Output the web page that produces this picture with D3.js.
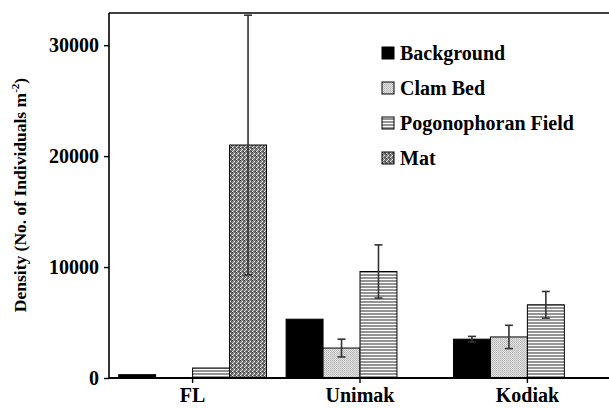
<!DOCTYPE html>
<html>
<head>
<meta charset="utf-8">
<script src="https://cdn.jsdelivr.net/npm/d3@7"></script>
<style>
  body { margin: 0; background: #fff; }
  text { font-family: "Liberation Serif", "Times New Roman", serif; font-weight: bold; fill: #000; }
</style>
</head>
<body>
<div id="chart"></div>
<script>
const sites = ["FL", "Unimak", "Kodiak"];
const series = ["Background", "Clam Bed", "Pogonophoran Field", "Mat"];
// mean density per series, in site order (null = not sampled)
const background = [300, 5300, 3500];
const clamBed = [null, 2700, 3700];
const pogonophoran = [900, 9600, 6600];
const mat = [21000, null, null];
// standard error per series
const backgroundErr = [0, 0, 250];
const clamBedErr = [0, 800, 1050];
const pogonophoranErr = [0, 2400, 1200];
const matErr = [11700, 0, 0];
const yTicks = [0, 10000, 20000, 30000];

const means = [background, clamBed, pogonophoran, mat];
const errs = [backgroundErr, clamBedErr, pogonophoranErr, matErr];

const width = 609, height = 408;
const margin = {left: 109, top: 13, bottom: 30};
const baseY = height - margin.bottom;

const svg = d3.select("#chart").append("svg")
    .attr("width", width)
    .attr("height", height);

// fill patterns
const defs = svg.append("defs");
const pClam = defs.append("pattern").attr("id", "p-clam")
    .attr("patternUnits", "userSpaceOnUse").attr("width", 2).attr("height", 2);
pClam.append("rect").attr("width", 2).attr("height", 2).attr("fill", "#e2e2e2");
pClam.append("rect").attr("width", 1).attr("height", 1).attr("fill", "#b4b4b4");
pClam.append("rect").attr("x", 1).attr("y", 1).attr("width", 1).attr("height", 1).attr("fill", "#c2c2c2");

const pPog = defs.append("pattern").attr("id", "p-pog")
    .attr("patternUnits", "userSpaceOnUse").attr("width", 4).attr("height", 3);
pPog.append("rect").attr("width", 4).attr("height", 3).attr("fill", "#fff");
pPog.append("rect").attr("y", 1).attr("width", 4).attr("height", 2).attr("fill", "#939393");

const pMat = defs.append("pattern").attr("id", "p-mat")
    .attr("patternUnits", "userSpaceOnUse").attr("width", 4).attr("height", 4);
pMat.append("rect").attr("width", 4).attr("height", 4).attr("fill", "#7c7c7c");
[[0, 0, "#3a3a3a"], [2, 1, "#eee"], [1, 2, "#d4d4d4"], [3, 3, "#4a4a4a"], [3, 1, "#5a5a5a"], [1, 0, "#a4a4a4"], [0, 3, "#f4f4f4"], [2, 3, "#606060"]]
  .forEach(([x, y, c]) => pMat.append("rect").attr("x", x).attr("y", y)
      .attr("width", 1).attr("height", 1).attr("fill", c));

const fills = ["#000", "url(#p-clam)", "url(#p-pog)", "url(#p-mat)"];

const x0 = d3.scaleBand().domain(sites).range([margin.left, 611])
    .paddingInner(0.117).paddingOuter(0.058);
const x1 = d3.scaleBand().domain(series).range([0, x0.bandwidth()]);
const y = d3.scaleLinear().domain([0, 32900]).range([baseY, margin.top]);

// bars
const cells = [];
series.forEach((s, i) => sites.forEach((site, j) => {
  if (means[i][j] !== null) cells.push({s, i, site, v: means[i][j], e: errs[i][j]});
}));

svg.append("g").selectAll("rect").data(cells).join("rect")
    .attr("x", d => x0(d.site) + x1(d.s))
    .attr("y", d => y(d.v))
    .attr("width", x1.bandwidth())
    .attr("height", d => y(0) - y(d.v))
    .attr("fill", d => fills[d.i])
    .attr("stroke", "#000")
    .attr("stroke-width", 1);

// error bars
const eb = svg.append("g").attr("stroke", "#333").attr("stroke-width", 1.6)
  .selectAll("g").data(cells.filter(d => d.e > 0)).join("g");
const cx = d => x0(d.site) + x1(d.s) + x1.bandwidth() / 2;
eb.append("line")
    .attr("x1", cx).attr("x2", cx)
    .attr("y1", d => y(d.v + d.e)).attr("y2", d => y(d.v - d.e));
eb.append("line")
    .attr("x1", d => cx(d) - 4).attr("x2", d => cx(d) + 4)
    .attr("y1", d => y(d.v + d.e)).attr("y2", d => y(d.v + d.e));
eb.append("line")
    .attr("x1", d => cx(d) - 4).attr("x2", d => cx(d) + 4)
    .attr("y1", d => y(d.v - d.e)).attr("y2", d => y(d.v - d.e));

// axes
const yAxis = svg.append("g")
    .attr("transform", `translate(${margin.left},0)`)
    .call(d3.axisLeft(y).tickValues(yTicks).tickSize(5).tickPadding(5).tickFormat(d3.format("d")));
yAxis.select(".domain").attr("stroke-width", 1.6)
    .attr("d", `M0,${margin.top}V${baseY}`);
yAxis.selectAll(".tick line").attr("stroke-width", 1.4);
yAxis.selectAll(".tick text").attr("font-size", 20);

const xAxis = svg.append("g")
    .attr("transform", `translate(0,${baseY})`)
    .call(d3.axisBottom(x0).tickSize(5).tickPadding(5));
xAxis.select(".domain").attr("stroke-width", 2)
    .attr("d", `M${margin.left},0H${width}`);
xAxis.selectAll(".tick line").attr("stroke-width", 1.4);
xAxis.selectAll(".tick text").attr("font-size", 20);

// top frame line
svg.append("line")
    .attr("x1", margin.left).attr("x2", width)
    .attr("y1", margin.top).attr("y2", margin.top)
    .attr("stroke", "#000").attr("stroke-width", 1.6);

// y title
const yt = svg.append("text")
    .attr("transform", `translate(26,${(77 + 313) / 2}) rotate(-90)`)
    .attr("text-anchor", "middle")
    .attr("font-size", 17.5);
yt.append("tspan").text("Density (No. of Individuals m");
yt.append("tspan").attr("font-size", 11).attr("dy", -7).text("-2");
yt.append("tspan").attr("dy", 7).text(")");

// legend
const legend = svg.append("g").selectAll("g").data(series).join("g")
    .attr("transform", (d, i) => `translate(382,${53 + i * 35})`);
legend.append("rect")
    .attr("x", 0).attr("y", -6).attr("width", 12).attr("height", 12)
    .attr("fill", (d, i) => fills[i]).attr("stroke", "#000").attr("stroke-width", 1);
legend.append("text")
    .attr("x", 18).attr("dy", "0.35em")
    .attr("font-size", 20)
    .text(d => d);
</script>
</body>
</html>
